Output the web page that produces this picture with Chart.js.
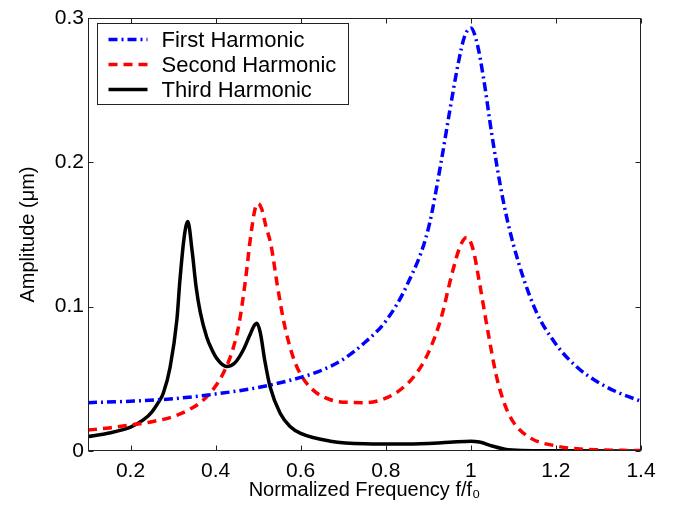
<!DOCTYPE html>
<html><head><meta charset="utf-8">
<script src="https://cdn.jsdelivr.net/npm/chart.js@4/dist/chart.umd.min.js"></script>
<style>html,body{margin:0;padding:0;background:#fff}canvas{display:block}</style>
</head><body>
<canvas id="c" width="676" height="506"></canvas>
<script>
const seriesNames = ['First Harmonic', 'Second Harmonic', 'Third Harmonic'];

const freqFirst = [0.1,0.2,0.3,0.4,0.5,0.6,0.65,0.7,0.75,0.8,0.85,0.9,0.93,0.95,0.97,0.985,1.0,1.015,1.03,1.05,1.075,1.1,1.15,1.2,1.25,1.3,1.35,1.4];
const ampFirst  = [0.0335,0.0345,0.0362,0.0395,0.0440,0.0510,0.0560,0.0635,0.0750,0.0900,0.1150,0.1540,0.2000,0.2350,0.2680,0.2870,0.2930,0.2820,0.2580,0.2180,0.1750,0.1430,0.0990,0.0740,0.0580,0.0475,0.0400,0.0345];

const freqSecond = [0.1,0.15,0.2,0.25,0.3,0.34,0.37,0.4,0.42,0.44,0.455,0.47,0.483,0.493,0.5,0.508,0.518,0.53,0.545,0.56,0.58,0.6,0.63,0.67,0.72,0.75,0.79,0.83,0.87,0.9,0.93,0.955,0.975,0.99,1.005,1.02,1.04,1.06,1.08,1.1,1.14,1.2,1.25,1.3,1.4];
const ampSecond  = [0.0145,0.0160,0.0180,0.0203,0.0238,0.0290,0.0350,0.0450,0.0550,0.0700,0.0880,0.1180,0.1500,0.1680,0.1715,0.1680,0.1560,0.1430,0.1150,0.0900,0.0670,0.0530,0.0420,0.0355,0.0336,0.0335,0.0355,0.0415,0.0530,0.0680,0.0920,0.1220,0.1420,0.1480,0.1400,0.1170,0.0830,0.0520,0.0320,0.0200,0.0090,0.0035,0.0015,0.0008,0.0003];

const freqThird = [0.1,0.15,0.2,0.23,0.25,0.265,0.277,0.293,0.309,0.316,0.326,0.3346,0.345,0.354,0.364,0.379,0.39,0.403,0.426,0.445,0.465,0.48,0.49,0.497,0.505,0.516,0.528,0.552,0.575,0.6,0.67,0.75,0.85,0.95,1.0,1.02,1.05,1.08,1.12,1.2,1.4];
const ampThird  = [0.0100,0.0125,0.0165,0.0215,0.0270,0.0335,0.0400,0.0580,0.0910,0.1180,0.1480,0.1590,0.1380,0.1140,0.0960,0.0790,0.0710,0.0640,0.0585,0.0610,0.0700,0.0800,0.0865,0.0885,0.0820,0.0620,0.0445,0.0260,0.0170,0.0122,0.0068,0.0050,0.0048,0.0060,0.0068,0.0062,0.0035,0.0012,0.0003,0.0001,0.0];

const xTickValues = [0.2,0.4,0.6,0.8,1.0,1.2,1.4];
const xTickLabels = ['0.2','0.4','0.6','0.8','1','1.2','1.4'];
const yTickValues = [0,0.1,0.2,0.3];
const yTickLabels = ['0','0.1','0.2','0.3'];

const pairs = (xs, ys) => xs.map((v, i) => ({x: v, y: ys[i]}));
const FONT = '"Liberation Sans", Arial, Helvetica, sans-serif';

const frameLegend = {
  id: 'frameLegend',
  afterDraw(chart) {
    const {ctx, chartArea: a, scales: {x, y}} = chart;
    ctx.save();
    ctx.strokeStyle = '#222';
    ctx.lineWidth = 1;
    const L = Math.round(a.left) + 0.5, R = Math.round(a.right) - 0.5;
    const T = Math.round(a.top) + 0.5, B = Math.round(a.bottom) - 0.5;
    ctx.strokeRect(L, T, R - L, B - T);
    ctx.beginPath();
    xTickValues.forEach(v => {
      const p = Math.round(x.getPixelForValue(v)) + 0.5;
      ctx.moveTo(p, B); ctx.lineTo(p, B - 5);
      ctx.moveTo(p, T); ctx.lineTo(p, T + 5);
    });
    yTickValues.forEach(v => {
      const p = Math.round(y.getPixelForValue(v)) + 0.5;
      ctx.moveTo(L, p); ctx.lineTo(L + 5, p);
      ctx.moveTo(R, p); ctx.lineTo(R - 5, p);
    });
    ctx.stroke();

    // legend
    const lx = L + 9, ly = T + 5, lw = 251, lh = 81;
    ctx.fillStyle = '#fff';
    ctx.fillRect(lx, ly, lw, lh);
    ctx.strokeStyle = '#222';
    ctx.lineWidth = 1;
    ctx.strokeRect(lx, ly, lw, lh);
    ctx.font = '22px ' + FONT;
    ctx.textBaseline = 'middle';
    ctx.textAlign = 'left';
    chart.data.datasets.forEach((ds, i) => {
      const yy = ly + 16 + i * 25;
      ctx.beginPath();
      ctx.strokeStyle = ds.borderColor;
      ctx.lineWidth = ds.borderWidth;
      ctx.setLineDash(ds.borderDash || []);
      ctx.moveTo(lx + 11, yy);
      ctx.lineTo(lx + 50, yy);
      ctx.stroke();
      ctx.setLineDash([]);
      ctx.fillStyle = '#000';
      ctx.fillText(ds.label, lx + 64, yy + 1);
    });
    ctx.restore();
  }
};

new Chart(document.getElementById('c'), {
  type: 'line',
  data: {
    datasets: [
      {label: seriesNames[0], data: pairs(freqFirst, ampFirst), borderColor: '#0000ff', borderWidth: 3.5, borderDash: [9, 4, 2, 4], pointRadius: 0, cubicInterpolationMode: 'monotone', fill: false},
      {label: seriesNames[1], data: pairs(freqSecond, ampSecond), borderColor: '#ff0000', borderWidth: 3.5, borderDash: [9, 6], pointRadius: 0, cubicInterpolationMode: 'monotone', fill: false},
      {label: seriesNames[2], data: pairs(freqThird, ampThird), borderColor: '#000000', borderWidth: 3.5, pointRadius: 0, cubicInterpolationMode: 'monotone', fill: false}
    ]
  },
  options: {
    responsive: false,
    animation: false,
    devicePixelRatio: 1,
    layout: {padding: {left: 0, top: 18, right: 35, bottom: 0}},
    plugins: {legend: {display: false}, tooltip: {enabled: false}},
    scales: {
      x: {
        type: 'linear', min: 0.1, max: 1.4,
        grid: {display: false, drawTicks: false},
        border: {display: false},
        afterBuildTicks: s => { s.ticks = xTickValues.map(v => ({value: v})); },
        afterFit: s => { s.height = 55; },
        ticks: {
          color: '#000', padding: 8, maxRotation: 0, autoSkip: false,
          font: {family: FONT, size: 21},
          callback: (v) => xTickLabels[xTickValues.findIndex(t => Math.abs(t - v) < 1e-9)]
        },
        title: {display: true, text: 'Normalized Frequency f/f\u2080', color: '#000', font: {family: FONT, size: 20}, padding: {top: 0, bottom: 4}}
      },
      y: {
        type: 'linear', min: 0, max: 0.3,
        grid: {display: false, drawTicks: false},
        border: {display: false},
        afterBuildTicks: s => { s.ticks = yTickValues.map(v => ({value: v})); },
        afterFit: s => { s.width = 88; },
        ticks: {
          color: '#000', padding: 4,
          font: {family: FONT, size: 21},
          callback: (v) => yTickLabels[yTickValues.findIndex(t => Math.abs(t - v) < 1e-9)]
        },
        title: {display: true, text: 'Amplitude (\u03bcm)', color: '#000', font: {family: FONT, size: 20}, padding: {top: 16, bottom: 0}}
      }
    }
  },
  plugins: [frameLegend]
});
</script>
</body></html>
